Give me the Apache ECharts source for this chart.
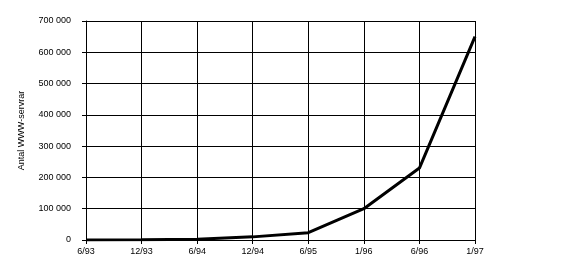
<!DOCTYPE html>
<html>
<head>
<meta charset="utf-8">
<script src="https://cdn.jsdelivr.net/npm/echarts@6/dist/echarts.min.js"></script>
<style>
html,body{margin:0;padding:0;background:#fff;}
#c{width:583px;height:274px;}
</style>
</head>
<body>
<div id="c"></div>
<script>
var categories = ['6/93', '12/93', '6/94', '12/94', '6/95', '1/96', '6/96', '1/97'];
var servers = [130, 623, 2700, 10000, 23500, 100000, 230000, 650000];
var yTicks = [0, 100000, 200000, 300000, 400000, 500000, 600000, 700000];
var yName = 'Antal WWW-servrar';

var font = 'Liberation Sans, Arial, sans-serif';
var chart = echarts.init(document.getElementById('c'), null, {renderer: 'canvas'});
chart.setOption({
  animation: false,
  backgroundColor: '#fff',
  grid: {left: 86, right: 108, top: 21, bottom: 34, containLabel: false},
  xAxis: {
    type: 'category',
    data: categories,
    boundaryGap: false,
    axisLine: {show: true, lineStyle: {color: '#000', width: 1}},
    axisTick: {show: true, length: 4, alignWithLabel: true, lineStyle: {color: '#000'}},
    axisLabel: {color: '#000', fontFamily: font, fontSize: 9, margin: 7, interval: 0},
    splitLine: {show: true, lineStyle: {color: '#000', width: 1}}
  },
  yAxis: {
    type: 'value',
    min: yTicks[0],
    max: yTicks[yTicks.length - 1],
    interval: 100000,
    name: yName,
    nameLocation: 'middle',
    nameGap: 60,
    nameTextStyle: {color: '#000', fontFamily: font, fontSize: 9},
    axisLine: {show: true, lineStyle: {color: '#000', width: 1}},
    axisTick: {show: true, length: 4, lineStyle: {color: '#000'}},
    axisLabel: {
      color: '#000', fontFamily: font, fontSize: 9, margin: 15,
      formatter: function (v) { return v === 0 ? '0' : (v / 1000) + ' 000'; }
    },
    splitLine: {show: true, lineStyle: {color: '#000', width: 1}}
  },
  series: [{
    type: 'line',
    data: servers,
    showSymbol: false,
    symbol: 'none',
    lineStyle: {color: '#000', width: 3},
    itemStyle: {color: '#000'}
  }]
});
</script>
</body>
</html>
